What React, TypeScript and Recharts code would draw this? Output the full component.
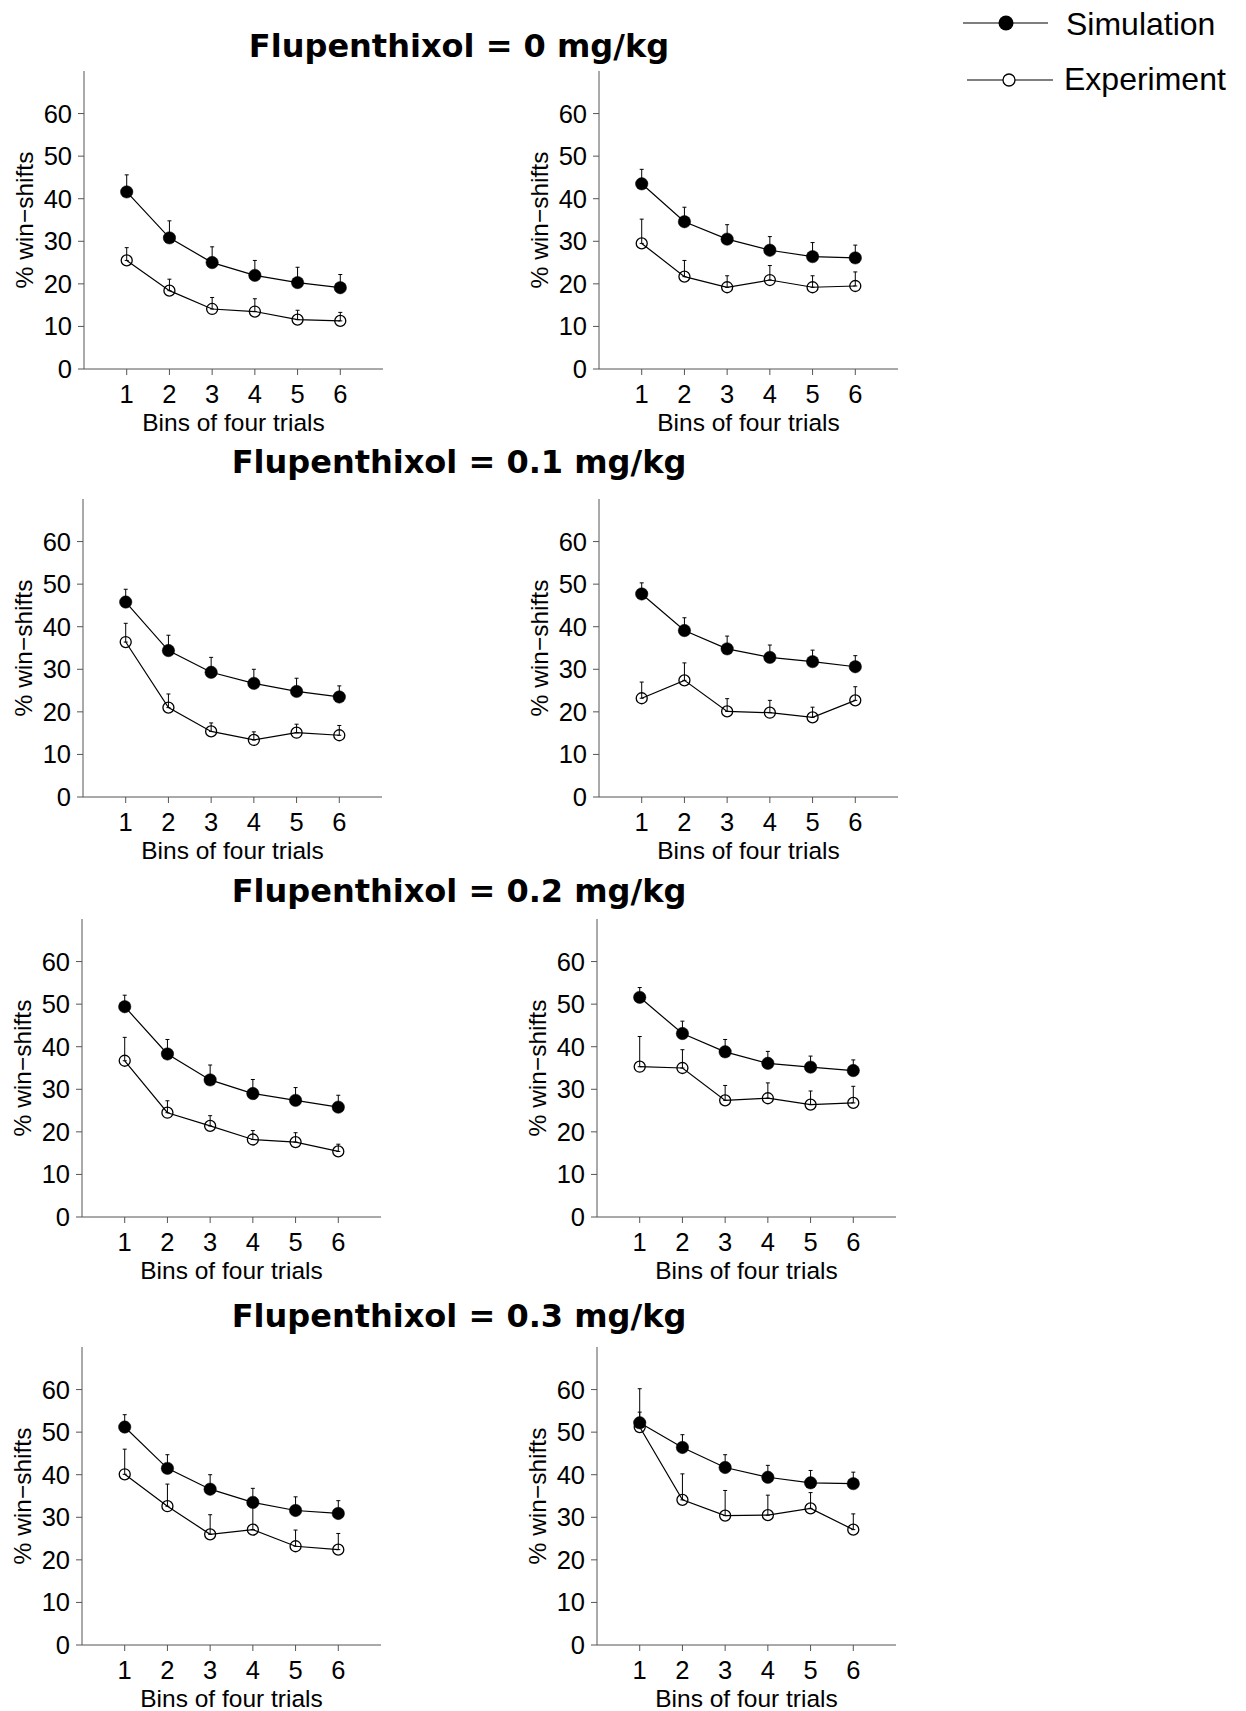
import React from "react";
import { LineChart, Line, XAxis, YAxis, ErrorBar, Label } from "recharts";

const BINS = [1, 2, 3, 4, 5, 6];
const Y_TICKS = [0, 10, 20, 30, 40, 50, 60];
const DOSES = ["0", "0.1", "0.2", "0.3"];
const SERIES = ["Simulation", "Experiment"];

// one row per dose, left panel
const SIM_LEFT = [
  [41.6, 30.8, 25.0, 22.0, 20.3, 19.1],
  [45.8, 34.4, 29.3, 26.7, 24.8, 23.5],
  [49.4, 38.3, 32.2, 29.0, 27.4, 25.8],
  [51.2, 41.5, 36.6, 33.5, 31.6, 30.9],
];
const SIM_ERR_LEFT = [
  [4.0, 4.0, 3.7, 3.5, 3.6, 3.1],
  [3.0, 3.6, 3.5, 3.3, 3.1, 2.6],
  [2.7, 3.4, 3.5, 3.3, 3.0, 2.8],
  [2.9, 3.2, 3.4, 3.3, 3.2, 3.0],
];
const EXP_LEFT = [
  [25.5, 18.4, 14.1, 13.5, 11.6, 11.3],
  [36.4, 21.0, 15.4, 13.4, 15.1, 14.5],
  [36.7, 24.5, 21.4, 18.2, 17.6, 15.4],
  [40.1, 32.6, 26.0, 27.1, 23.2, 22.4],
];
const EXP_ERR_LEFT = [
  [3.0, 2.7, 2.7, 3.0, 2.2, 2.0],
  [4.4, 3.2, 2.0, 1.9, 2.0, 2.3],
  [5.5, 2.8, 2.4, 2.1, 2.2, 1.7],
  [5.9, 5.2, 4.6, 5.9, 3.8, 3.8],
];

// right panel
const SIM_RIGHT = [
  [43.5, 34.6, 30.5, 27.9, 26.4, 26.1],
  [47.7, 39.1, 34.8, 32.8, 31.8, 30.6],
  [51.6, 43.1, 38.8, 36.1, 35.2, 34.4],
  [52.2, 46.4, 41.7, 39.4, 38.1, 37.9],
];
const SIM_ERR_RIGHT = [
  [3.4, 3.4, 3.4, 3.2, 3.3, 3.0],
  [2.6, 3.0, 3.0, 2.9, 2.7, 2.6],
  [2.3, 2.9, 2.9, 2.8, 2.6, 2.5],
  [2.5, 3.0, 3.0, 2.8, 2.9, 2.7],
];
const EXP_RIGHT = [
  [29.5, 21.7, 19.2, 20.9, 19.2, 19.5],
  [23.2, 27.4, 20.1, 19.8, 18.7, 22.7],
  [35.3, 35.0, 27.4, 27.9, 26.4, 26.8],
  [51.2, 34.1, 30.4, 30.5, 32.1, 27.1],
];
const EXP_ERR_RIGHT = [
  [5.7, 3.8, 2.7, 3.4, 2.7, 3.3],
  [3.8, 4.1, 3.0, 2.9, 2.4, 3.2],
  [7.1, 4.3, 3.5, 3.6, 3.2, 3.9],
  [9.0, 6.1, 5.9, 4.7, 3.7, 3.7],
];

// page placement of each row (chart box top-left)
const ROW_TOP = [61, 489, 909, 1337];
const LEFT_X = [4, 3, 2, 2];
const RIGHT_X = [519, 519, 517, 517];
const TITLE_Y = [57, 473, 902, 1327];

const SANS = "'Liberation Sans', Arial, Helvetica, sans-serif";
const AXIS = "#555";

function Panel({ sim, simErr, exp, expErr, left, top }) {
  const data = BINS.map((bin, i) => ({
    bin,
    sim: sim[i],
    simErr: [0, simErr[i]],
    exp: exp[i],
    expErr: [0, expErr[i]],
  }));
  return (
    <div style={{ position: "absolute", left, top }}>
      <LineChart width={389} height={378} data={data} margin={{ top: 10, right: 10, left: 0, bottom: 0 }}>
        <XAxis
          dataKey="bin"
          type="number"
          domain={[0, 7]}
          ticks={BINS}
          height={70}
          axisLine={{ stroke: AXIS }}
          tickLine={{ stroke: AXIS }}
          tickSize={6}
          tickMargin={10}
          tick={{ fontSize: 25.5, fill: "#000", fontFamily: SANS }}
        >
          <Label value="Bins of four trials" position="insideBottom" offset={8} fontSize={24.5} fill="#000" fontFamily={SANS} />
        </XAxis>
        <YAxis
          type="number"
          domain={[0, 70]}
          ticks={Y_TICKS}
          width={80}
          axisLine={{ stroke: AXIS }}
          tickLine={{ stroke: AXIS }}
          tickSize={6}
          tickMargin={6}
          tick={{ fontSize: 25.5, fill: "#000", fontFamily: SANS }}
        >
          <Label
            value="% win−shifts"
            angle={-90}
            position="insideLeft"
            offset={20}
            fontSize={24.5}
            fill="#000"
            fontFamily={SANS}
            style={{ textAnchor: "middle" }}
          />
        </YAxis>
        <Line
          dataKey="exp"
          stroke="#000"
          strokeWidth={1.2}
          isAnimationActive={false}
          dot={{ r: 5.5, fill: "none", stroke: "#000", strokeWidth: 1.3 }}
        >
          <ErrorBar dataKey="expErr" direction="y" width={2} stroke="#000" strokeWidth={1} isAnimationActive={false} />
        </Line>
        <Line
          dataKey="sim"
          stroke="#000"
          strokeWidth={1.2}
          isAnimationActive={false}
          dot={{ r: 6.2, fill: "#000", stroke: "#000", strokeWidth: 0.5 }}
        >
          <ErrorBar dataKey="simErr" direction="y" width={2} stroke="#000" strokeWidth={1} isAnimationActive={false} />
        </Line>
      </LineChart>
    </div>
  );
}

export default function App() {
  return (
    <div style={{ position: "absolute", left: 0, top: 0, width: 1246, height: 1711, background: "#fff" }}>
      {DOSES.map((d, i) => (
        <React.Fragment key={d}>
          <Panel
            sim={SIM_LEFT[i]}
            simErr={SIM_ERR_LEFT[i]}
            exp={EXP_LEFT[i]}
            expErr={EXP_ERR_LEFT[i]}
            left={LEFT_X[i]}
            top={ROW_TOP[i]}
          />
          <Panel
            sim={SIM_RIGHT[i]}
            simErr={SIM_ERR_RIGHT[i]}
            exp={EXP_RIGHT[i]}
            expErr={EXP_ERR_RIGHT[i]}
            left={RIGHT_X[i]}
            top={ROW_TOP[i]}
          />
        </React.Fragment>
      ))}
      <svg width={1246} height={1711} style={{ position: "absolute", left: 0, top: 0, pointerEvents: "none" }}>
        {DOSES.map((d, i) => (
          <text
            key={d}
            x={459}
            y={TITLE_Y[i]}
            textAnchor="middle"
            fontFamily="'DejaVu Sans', sans-serif"
            fontWeight="bold"
            fontSize={32}
          >
            {`Flupenthixol = ${d} mg/kg`}
          </text>
        ))}
        {/* legend */}
        <line x1={963} y1={23} x2={1048} y2={23} stroke="#000" strokeWidth={1.2} />
        <circle cx={1006} cy={23} r={7.5} fill="#000" />
        <text x={1066} y={35} fontFamily={SANS} fontSize={32}>{SERIES[0]}</text>
        <line x1={967} y1={80} x2={1053} y2={80} stroke="#000" strokeWidth={1.2} />
        <circle cx={1009} cy={80} r={6} fill="#fff" stroke="#000" strokeWidth={1.3} />
        <text x={1064} y={90} fontFamily={SANS} fontSize={32}>{SERIES[1]}</text>
      </svg>
    </div>
  );
}
